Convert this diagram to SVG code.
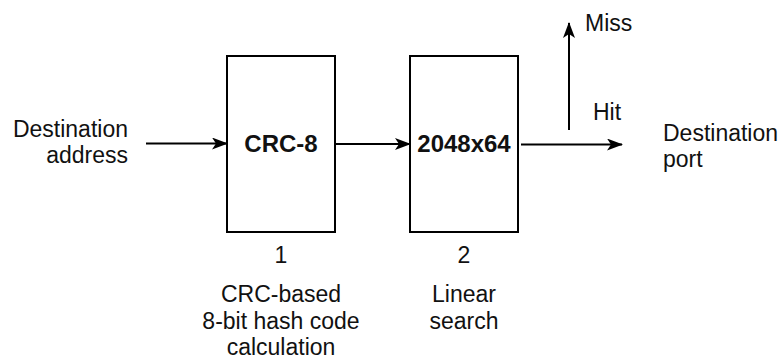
<svg xmlns="http://www.w3.org/2000/svg" width="781" height="359" viewBox="0 0 781 359">
<style>
.t{font-family:"Liberation Sans",Arial,Helvetica,sans-serif;font-size:23px;fill:#111}
.b{font-family:"Liberation Sans",Arial,Helvetica,sans-serif;font-size:24px;font-weight:bold;fill:#111}
.box{fill:#fff;stroke:#000;stroke-width:2}
.c{fill:none;stroke:#000;stroke-width:2}
</style>
<defs>
<marker id="ah" viewBox="0 0 16 12" refX="15" refY="6" markerWidth="16" markerHeight="12" markerUnits="userSpaceOnUse" orient="auto">
<path d="M0,0 L16,6 L0,12 L4,6 Z" fill="#000"/>
</marker>
</defs>
<rect width="781" height="359" fill="#fff"/>
<g id="input">
<text class="t" x="128" y="137" text-anchor="end">Destination</text>
<text class="t" x="128" y="163" text-anchor="end">address</text>
</g>
<g id="crc8">
<rect class="box" x="227" y="56" width="108" height="176"/>
<text class="b" x="281" y="152" text-anchor="middle">CRC-8</text>
<text class="t" x="281" y="263" text-anchor="middle">1</text>
<text class="t" x="281" y="302" text-anchor="middle">CRC-based</text>
<text class="t" x="281" y="329" text-anchor="middle">8-bit hash code</text>
<text class="t" x="281" y="355" text-anchor="middle">calculation</text>
</g>
<g id="table">
<rect class="box" x="410" y="56" width="108" height="176"/>
<text class="b" x="464" y="152" text-anchor="middle">2048x64</text>
<text class="t" x="464" y="263" text-anchor="middle">2</text>
<text class="t" x="464" y="302" text-anchor="middle">Linear</text>
<text class="t" x="464" y="329" text-anchor="middle">search</text>
</g>
<g id="output">
<text class="t" x="663" y="141">Destination</text>
<text class="t" x="663" y="167">port</text>
</g>
<g id="connectors">
<line class="c" x1="146" y1="143.5" x2="227" y2="143.5" marker-end="url(#ah)"/>
<line class="c" x1="335" y1="144" x2="410" y2="144" marker-end="url(#ah)"/>
<line class="c" x1="521" y1="144.5" x2="622" y2="144.5" marker-end="url(#ah)"/>
<line class="c" x1="569" y1="130" x2="569" y2="23" marker-end="url(#ah)"/>
<text class="t" x="593" y="120">Hit</text>
<text class="t" x="585" y="31">Miss</text>
</g>
</svg>
